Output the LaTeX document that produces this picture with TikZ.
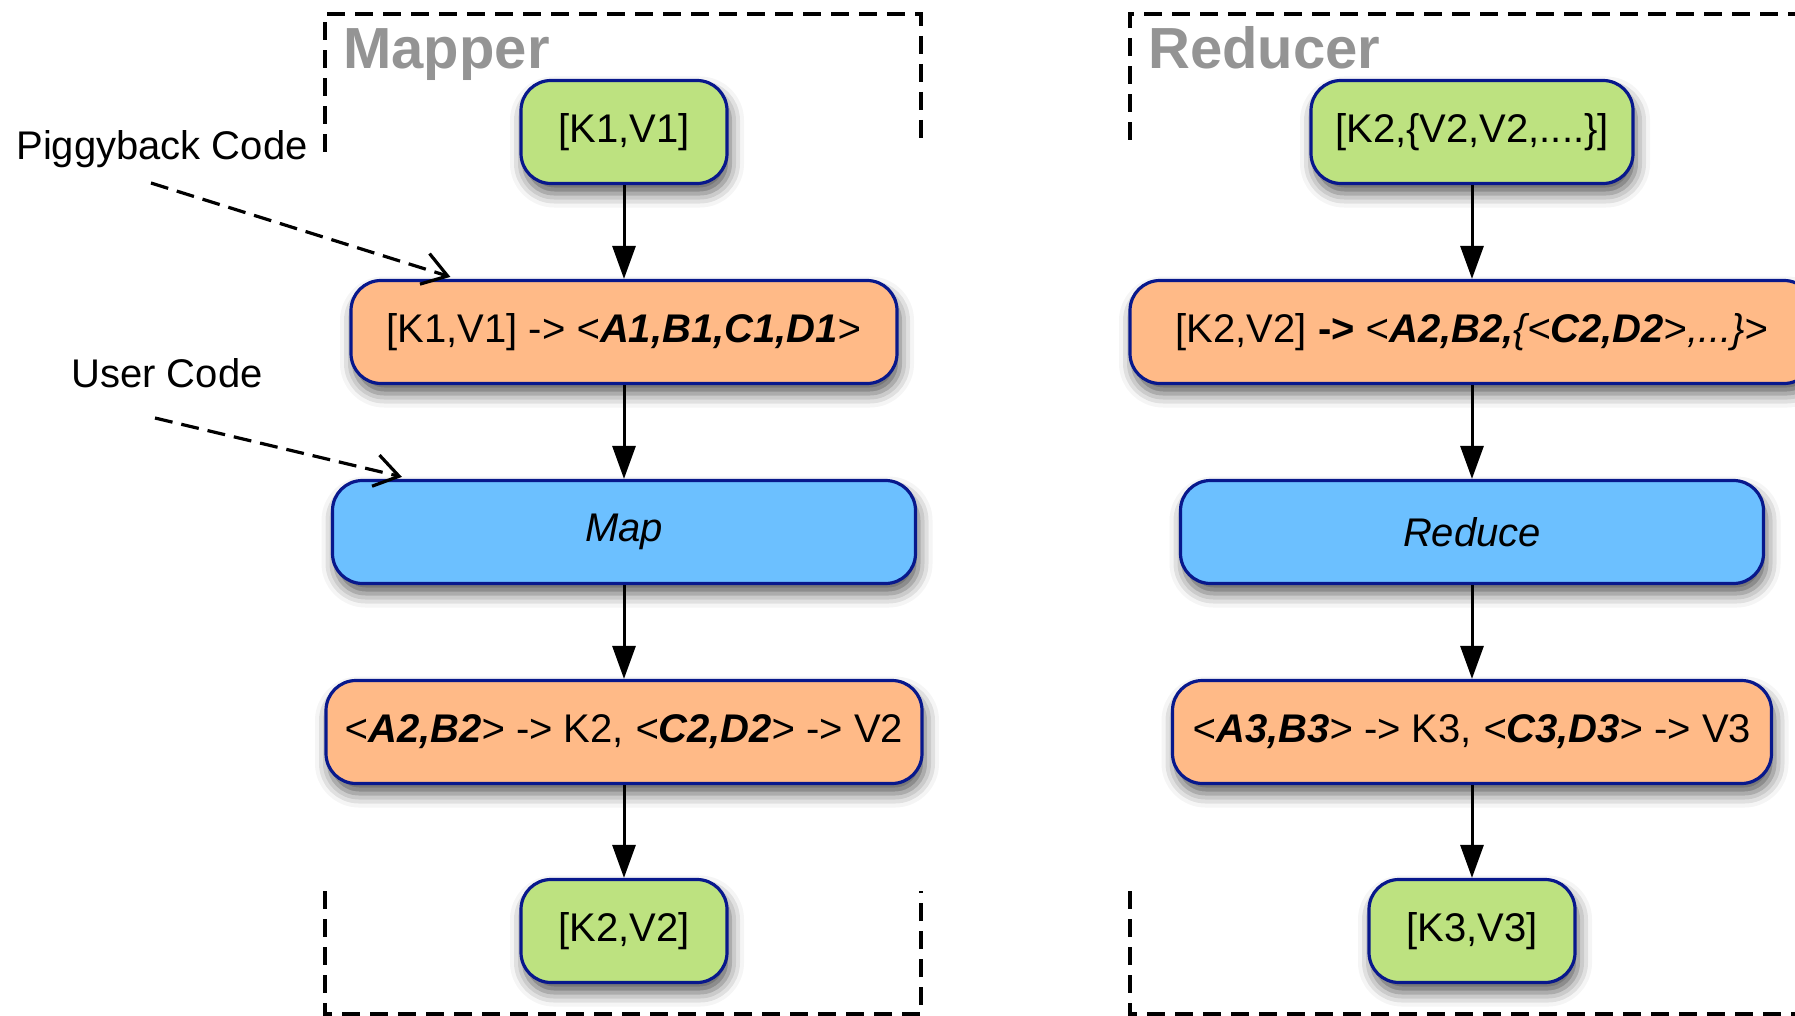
\documentclass[tikz,border=0pt]{standalone}
\usepackage{fontspec}
\setmainfont{Liberation Sans}
\usetikzlibrary{arrows.meta,shadows.blur,calc}
\definecolor{boxgreen}{RGB}{189,226,128}
\definecolor{boxorange}{RGB}{255,186,135}
\definecolor{boxblue}{RGB}{108,192,255}
\definecolor{navy}{RGB}{8,24,140}
\definecolor{titlegray}{RGB}{148,148,148}
\newcommand{\bi}[1]{\textbf{\textit{#1}}}
\begin{document}
\begin{tikzpicture}[x=0.5pt,y=-0.5pt,
  box/.style={draw=navy, line width=1.6pt, rounded corners=15pt, minimum height=51.5pt,
    inner sep=0pt, font=\fontsize{20}{24}\selectfont,
    blur shadow={shadow xshift=1.5pt, shadow yshift=-5pt, shadow blur radius=7pt, shadow opacity=65}},
  gbox/.style={box, fill=boxgreen},
  obox/.style={box, fill=boxorange},
  bbox/.style={box, fill=boxblue},
  flow/.style={line width=1.5pt, -{Triangle[length=16.5pt,width=11.5pt]}},
  hintarrow/.style={line width=1.6pt, dash pattern=on 9pt off 4.5pt, -{Straight Barb[length=12pt,width=16pt]}},
  frame/.style={line width=1.6pt, dash pattern=on 9pt off 5pt},
  title/.style={font=\fontsize{29}{34}\selectfont\bfseries, text=titlegray, anchor=base west, inner sep=0pt},
  hint/.style={font=\fontsize{20}{24}\selectfont, anchor=base west, inner sep=0pt}
]
\useasboundingbox (0,0) rectangle (1795,1016);

% dashed frames
\draw[frame] (325,152) -- (325,14) -- (921,14) -- (921,140);
\draw[frame] (325,891) -- (325,1014) -- (921,1014) -- (921,891);
\draw[frame] (1130,140) -- (1130,14) -- (1850,14);
\draw[frame] (1130,891) -- (1130,1014) -- (1850,1014);

\node[title] (mt) at (343,69) {Mapper};
\node[title] (rt) at (1148,69) {Reducer};

% mapper column
\node[gbox, minimum width=103pt] (m1) at (624,132) {[K1,V1]};
\node[obox, minimum width=273pt] (m2) at (624,332) {[K1,V1] -> \textit{<}\bi{A1,B1,C1,D1}\textit{>}};
\node[bbox, minimum width=291.5pt] (m3) at (624,532) {\textit{Map}};
\node[obox, minimum width=298pt] (m4) at (624,732) {\textit{<}\bi{A2,B2}\textit{>} -> K2, \textit{<}\bi{C2,D2}\textit{>} -> V2};
\node[gbox, minimum width=103pt] (m5) at (624,931) {[K2,V2]};

% reducer column
\node[gbox, minimum width=161pt] (r1) at (1472,132) {[K2,\{V2,V2,....\}]};
\node[obox, minimum width=342pt] (r2) at (1472,332) {[K2,V2] \textbf{->} \textit{<}\bi{A2,B2,}\textit{\{<}\bi{C2,D2}\textit{>,...\}>}};
\node[bbox, minimum width=291.5pt] (r3) at (1472,532) {\textit{Reduce}};
\node[obox, minimum width=299.5pt] (r4) at (1472,732) {\textit{<}\bi{A3,B3}\textit{>} -> K3, \textit{<}\bi{C3,D3}\textit{>} -> V3};
\node[gbox, minimum width=103pt] (r5) at (1472,931) {[K3,V3]};

\draw[flow] (m1) -- (m2);
\draw[flow] (m2) -- (m3);
\draw[flow] (m3) -- (m4);
\draw[flow] (m4) -- (m5);
\draw[flow] (r1) -- (r2);
\draw[flow] (r2) -- (r3);
\draw[flow] (r3) -- (r4);
\draw[flow] (r4) -- (r5);

% hints
\node[hint] (pb) at (16,160) {Piggyback Code};
\node[hint] (uc) at (71,387) {User Code};
\coordinate (pbs) at (151,183);
\coordinate (ucs) at (155,418);
\draw[hintarrow] (pbs) -- ($(m2.north west)+(101,-2)$);
\draw[hintarrow] (ucs) -- ($(m3.north west)+(71,-2)$);
\end{tikzpicture}
\end{document}
